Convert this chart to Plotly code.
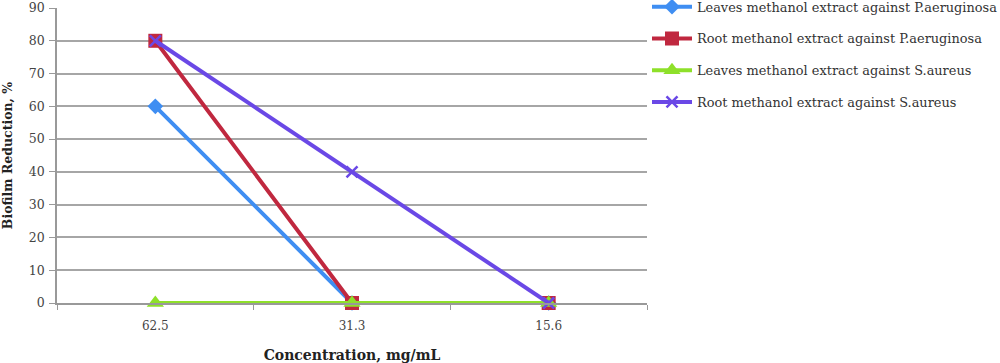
import plotly.graph_objects as go

categories = ["62.5", "31.3", "15.6"]
series_names = [
    "Leaves methanol extract against P.aeruginosa",
    "Root methanol extract against P.aeruginosa",
    "Leaves methanol extract against S.aureus",
    "Root methanol extract against S.aureus",
]
leaves_pa = [60, 0, 0]
root_pa = [80, 0, 0]
leaves_sa = [0, 0, 0]
root_sa = [80, 40, 0]

series_values = [leaves_pa, root_pa, leaves_sa, root_sa]
colors = ["#3f8ef2", "#c0283f", "#8ee02a", "#6a48e6"]
symbols = ["diamond", "square", "triangle-up", "x-thin"]
sizes = [12, 14, 15, 11]

FONT = "DejaVu Serif"
fig = go.Figure()
for i in range(4):
    sym = symbols[i]
    marker = dict(symbol=sym, size=sizes[i], color=colors[i])
    if sym == "x-thin":
        marker["line"] = dict(width=2.5, color=colors[i])
    fig.add_trace(go.Scatter(
        x=categories, y=series_values[i], name=series_names[i],
        mode="lines+markers", line=dict(color=colors[i], width=4),
        marker=marker, legendgroup=f"g{i}", cliponaxis=False,
    ))

fig.update_layout(
    width=1000, height=363,
    margin=dict(l=57, r=353, t=8, b=60, autoexpand=False),
    plot_bgcolor="white", paper_bgcolor="white",
    font=dict(family=FONT, size=12, color="#444444"),
    showlegend=True,
    legend=dict(x=1.0, y=1.055, xanchor="left", yanchor="top",
                font=dict(family=FONT, size=12.9, color="#333333"),
                itemwidth=40, tracegroupgap=12, bgcolor="rgba(0,0,0,0)"),
    xaxis=dict(
        type="category", range=[-0.5, 2.5], tickson="boundaries", ticks="outside", ticklen=5,
        tickcolor="#999999", showline=True, linecolor="#999999", linewidth=1.5,
        showgrid=False, tickfont=dict(size=12, color="#444444"), automargin=False,
        ticklabelstandoff=11,
        title=dict(text="<b>Concentration, mg/mL</b>", font=dict(size=14, color="#222222"), standoff=24),
    ),
    yaxis=dict(
        range=[0, 90], dtick=10, ticks="outside", ticklen=6, tickcolor="#999999",
        showline=True, linecolor="#999999", linewidth=1.5, automargin=False,
        showgrid=True, gridcolor="#a6a6a6", gridwidth=1.5, zeroline=False,
        tickfont=dict(size=12.5, color="#444444"), ticklabelstandoff=2,
        title=dict(text="<b>Biofilm Reduction, %</b>", font=dict(size=12.5, color="#222222"), standoff=17),
    ),
)

fig.write_html("out.html", config={"displayModeBar": False},
               post_script="document.body.style.margin='0';document.body.style.overflow='hidden';")
